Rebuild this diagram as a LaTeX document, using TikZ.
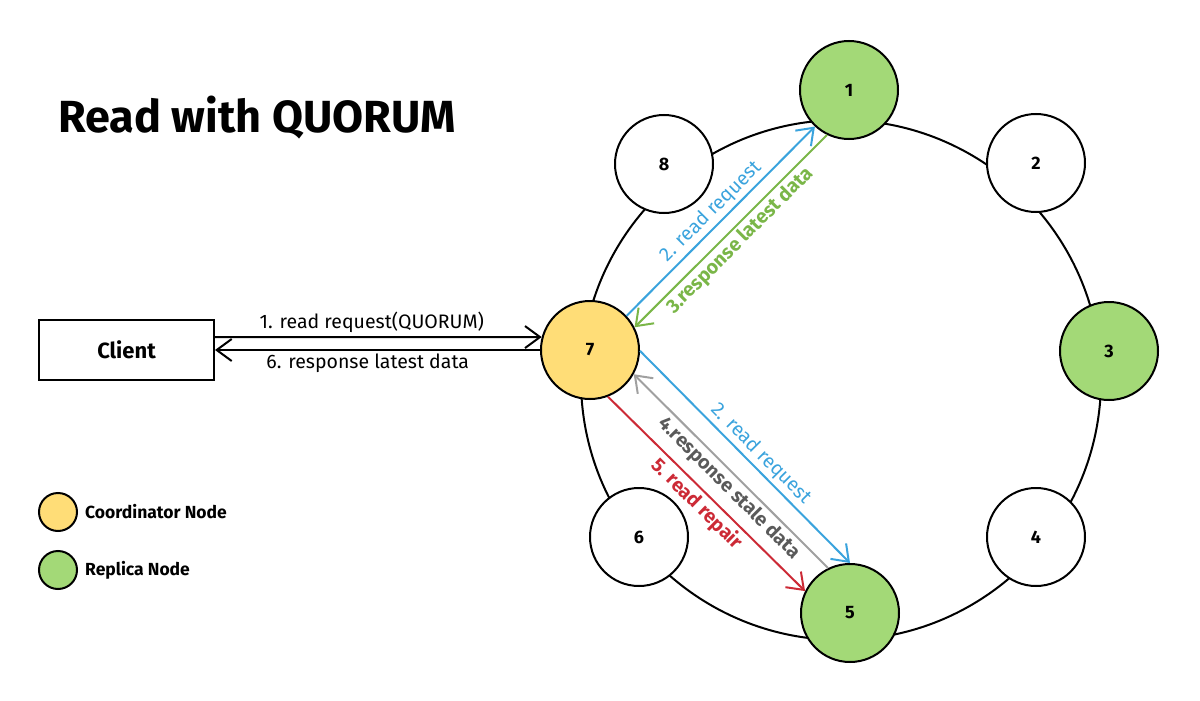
\documentclass[tikz,border=0pt]{standalone}
\usepackage{fontspec}
\setmainfont{Fira Sans}
\usetikzlibrary{automata, positioning, arrows.meta}

\definecolor{coordyellow}{HTML}{FFDD77}
\definecolor{replgreen}{HTML}{A3D977}
\definecolor{reqblue}{HTML}{3AA3DD}
\definecolor{respgreen}{HTML}{7AB648}
\definecolor{stalegray}{HTML}{A0A0A0}
\definecolor{staletext}{HTML}{5A5A5A}
\definecolor{repairred}{HTML}{CC2A36}

\begin{document}
\begin{tikzpicture}[x=1pt,y=-1pt,
    every state/.style={draw, fill=white, line width=2pt, minimum size=98pt,
      font=\fontsize{18}{21}\selectfont\bfseries},
    coord/.style={state, fill=coordyellow},
    replica/.style={state, fill=replgreen},
    msg/.style={line width=2pt, -{Straight Barb[length=15pt,width=22pt]}},
    lbl/.style={font=\fontsize{19.5}{23}\selectfont, inner sep=3pt},
    blbl/.style={font=\fontsize{19.5}{23}\selectfont\bfseries, inner sep=3pt},
    legend/.style={circle, draw, line width=2pt, minimum size=38pt}]
        \useasboundingbox (0,0) rectangle (1200,701);

        \node[font=\fontsize{45}{52}\selectfont\bfseries, anchor=base west, inner sep=0] (title) at (58,132) {Read with QUORUM};

        % ring
        \draw[line width=2pt] (841,380) circle[radius=260];

        \node[replica] (n1) at (849,90) {1};
        \node[state] (n2) at (1036,163) {2};
        \node[replica] (n3) at (1109,351) {3};
        \node[state] (n4) at (1036,537) {4};
        \node[replica] (n5) at (850,613) {5};
        \node[state] (n6) at (639,537) {6};
        \node[coord] (n7) at (590,350) {7};
        \node[state] (n8) at (664,164) {8};

        \node[draw, line width=2pt, minimum width=175pt, minimum height=60pt,
          font=\fontsize{22}{26}\selectfont\bfseries] (client) at (126.5,350) {Client};

        \draw[msg] ([yshift=13pt]client.east) -- node[lbl, above, pos=.48] {1. read request(QUORUM)} (n7.165);
        \draw[msg] (n7) -- node[lbl, below, pos=.53] {6. response latest data} (client);

        \draw[msg, reqblue] (n7.43) -- node[lbl, sloped, above] {2. read request} (n1.227);
        \draw[msg, respgreen] (n1.244) -- node[blbl, sloped, below] {3.response latest data} (n7.27);
        \draw[msg, reqblue] (n7.-1) -- node[lbl, sloped, above, pos=.53] {2. read request} (n5.90);
        \draw[msg, stalegray] (n5.116) -- node[blbl, sloped, below, pos=.46, text=staletext] {4.response stale data} (n7.-29);
        \draw[msg, repairred] (n7.-69) -- node[blbl, sloped, below] {5. read repair} (n5.154);

        % legend
        \node[legend, fill=coordyellow] (legcoord) at (58,512) {};
        \node[right=7pt of legcoord, inner sep=0, font=\fontsize{17.5}{21}\selectfont\bfseries] {Coordinator Node};
        \node[legend, fill=replgreen] (legrepl) at (58,570) {};
        \node[right=7pt of legrepl, inner sep=0, font=\fontsize{17.5}{21}\selectfont\bfseries] {Replica Node};
      \end{tikzpicture}
\end{document}
